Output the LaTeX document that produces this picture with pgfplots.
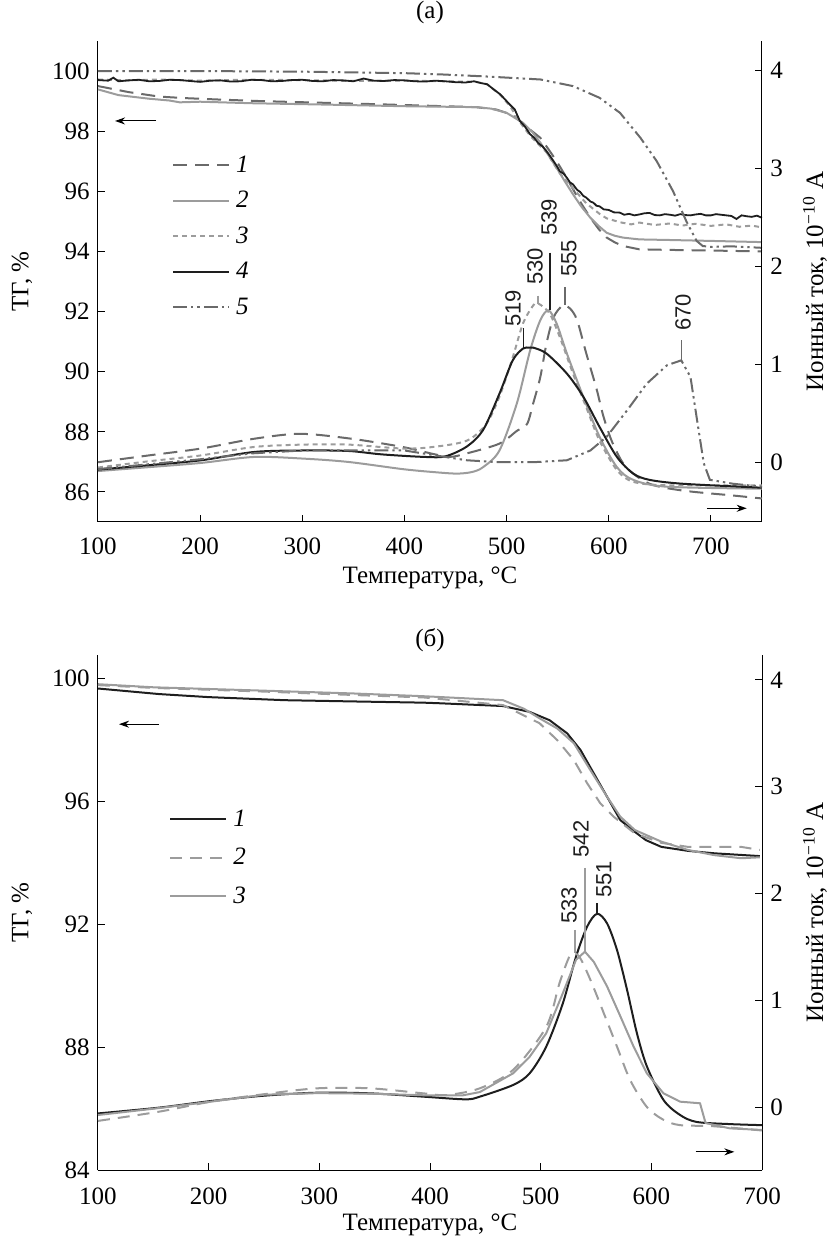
\documentclass[border=0pt]{standalone}
\usepackage{fontspec}
\setmainfont{Liberation Serif}
\newfontfamily\sansf{Liberation Sans}
\usepackage{pgfplots}
\pgfplotsset{compat=1.18}
\usepackage{pgfplotstable}
\usetikzlibrary{arrows.meta}
\definecolor{cblk}{HTML}{1E1E1E}
\definecolor{cmid}{HTML}{6A6A6A}
\definecolor{clt}{HTML}{9C9C9C}

% ---------- panel (a): TG ----------
\pgfplotstableread{
x y
100 99.5
130 99.3
160 99.15
185 99.1
220 99.05
260 99.0
315 98.95
370 98.9
420 98.85
470 98.8
490 98.72
505 98.55
513 98.34
523 98.05
533 97.78
541 97.4
549 97.0
557 96.55
565 96.07
573 95.6
582 95.12
590 94.75
598 94.46
606 94.3
614 94.18
630 94.07
660 94.05
700 94.03
750 94.0
}\TGaA
\pgfplotstableread{
x y
100 99.39
120 99.2
150 99.08
170 99.02
180 98.96
200 98.98
250 98.93
315 98.89
400 98.83
470 98.8
485 98.75
500 98.61
516 98.28
525 97.98
533 97.62
541 97.2
549 96.78
557 96.33
565 95.9
573 95.5
582 95.12
590 94.85
598 94.62
606 94.52
614 94.46
630 94.4
660 94.38
700 94.35
750 94.31
}\TGaB
\pgfplotstableread{
x y
100 99.72
130 99.69
160 99.72
200 99.68
240 99.71
300 99.7
350 99.67
400 99.68
440 99.66
470 99.64
481 99.56
494 99.2
503 98.85
513 98.3
523 97.85
539 97.3
552 96.6
565 96.1
578 95.6
591 95.25
598 95.1
611 94.97
622 94.9
630 94.96
645 94.88
660 94.93
672 94.86
685 94.92
700 94.85
715 94.9
728 94.82
740 94.86
750 94.8
}\TGaC
\pgfplotstableread{
x y
100 99.70
110 99.68
115 99.78
120 99.66
130 99.69
140 99.71
150 99.66
160 99.67
170 99.71
180 99.70
190 99.67
200 99.64
210 99.68
220 99.69
230 99.65
240 99.66
250 99.71
260 99.70
270 99.66
280 99.67
290 99.70
300 99.71
310 99.67
320 99.66
330 99.70
340 99.69
350 99.66
360 99.75
370 99.68
380 99.67
390 99.70
400 99.69
410 99.66
420 99.65
430 99.68
440 99.66
450 99.63
460 99.62
468 99.66
475 99.60
481 99.56
487 99.40
494 99.22
503 98.89
508 98.72
513 98.34
518 98.15
523 97.9
527 97.78
531 97.6
535 97.5
539 97.34
543 97.15
546 97.0
549 96.85
552 96.67
556 96.58
559 96.45
562 96.30
565 96.23
569 96.05
572 95.98
575 95.85
578 95.79
582 95.66
585 95.62
588 95.52
591 95.5
595 95.40
600 95.38
605 95.30
611 95.29
615 95.22
620 95.25
625 95.20
630 95.23
635 95.27
640 95.28
645 95.21
650 95.2
655 95.24
660 95.22
665 95.19
670 95.24
675 95.21
680 95.2
685 95.23
690 95.25
695 95.20
700 95.2
705 95.24
710 95.22
715 95.20
720 95.18
725 95.08
730 95.2
735 95.17
740 95.15
745 95.19
750 95.12
}\TGaD
\pgfplotstableread{
x y
100 100.0
200 100.0
300 99.98
400 99.93
435 99.89
480 99.82
533 99.72
565 99.5
591 99.11
611 98.61
631 97.78
647 97.0
663 96.0
676 95.0
686 94.35
692 94.18
700 94.15
720 94.17
750 94.12
}\TGaE
% ---------- panel (a): MS ----------
\pgfplotstableread{
x y
100 0.00
150 0.07
201 0.14
253 0.24
298 0.29
348 0.24
398 0.156
430 0.08
445 0.055
461 0.09
493 0.19
510 0.32
520 0.39
526 0.60
533 0.87
539 1.21
546 1.48
555 1.60
562 1.57
569 1.45
578 1.11
588 0.75
595 0.46
604 0.19
617 -0.05
640 -0.22
673 -0.29
722 -0.34
750 -0.37
}\MSaA
\pgfplotstableread{
x y
100 -0.09
150 -0.05
201 -0.007
253 0.054
301 0.037
345 0.003
398 -0.07
428 -0.1
451 -0.116
466 -0.1
477 -0.05
493 0.12
510 0.6
523 1.14
533 1.45
541 1.55
549 1.415
559 1.11
575 0.67
591 0.26
608 -0.05
624 -0.18
657 -0.25
750 -0.27
}\MSaB
\pgfplotstableread{
x y
100 -0.054
150 0.01
201 0.07
253 0.156
301 0.18
345 0.18
398 0.14
428 0.156
461 0.22
480 0.39
493 0.67
506 1.07
516 1.415
526 1.60
531 1.62
542 1.52
552 1.28
565 0.905
578 0.56
591 0.22
608 -0.08
624 -0.2
657 -0.235
750 -0.235
}\MSaC
\pgfplotstableread{
x y
100 -0.075
150 -0.03
201 0.02
253 0.105
301 0.12
345 0.115
378 0.08
420 0.054
440 0.06
461 0.16
477 0.33
493 0.70
506 1.04
516 1.16
522 1.17
526 1.17
539 1.11
559 0.905
575 0.67
591 0.36
608 0.054
624 -0.116
640 -0.18
673 -0.22
750 -0.26
}\MSaD
\pgfplotstableread{
x y
100 -0.07
150 -0.02
200 0.03
250 0.09
300 0.12
350 0.12
400 0.12
430 0.07
461 0.02
493 0.0
526 0.0
559 0.02
582 0.12
598 0.26
618 0.53
637 0.80
657 0.99
671 1.04
680 0.87
686 0.46
693 -0.01
699 -0.18
722 -0.22
750 -0.25
}\MSaE
% ---------- panel (b): TG ----------
\pgfplotstableread{
x y
100 99.66
155 99.48
200 99.38
269 99.28
330 99.24
394 99.2
409 99.18
466 99.09
490 98.9
508 98.63
524 98.2
536 97.66
548 96.9
560 96.14
572 95.38
585 95.0
595 94.73
609 94.51
633 94.38
657 94.3
698 94.21
}\TGbA
\pgfplotstableread{
x y
100 99.77
150 99.68
250 99.56
330 99.45
394 99.37
409 99.32
466 99.12
481 98.85
499 98.53
515 97.98
530 97.33
542 96.58
554 95.92
566 95.49
585 94.95
609 94.64
633 94.51
681 94.51
698 94.41
}\TGbB
\pgfplotstableread{
x y
100 99.8
150 99.7
250 99.59
330 99.5
394 99.41
466 99.28
485 99.0
499 98.69
515 98.36
530 97.88
545 97.0
560 96.14
572 95.49
585 95.06
609 94.68
633 94.41
657 94.24
681 94.14
698 94.17
}\TGbC
% ---------- panel (b): MS ----------
\pgfplotstableread{
x y
100 -0.06
155 -0.006
202 0.056
250 0.106
298 0.134
346 0.128
394 0.097
432 0.072
445 0.097
475 0.206
490 0.315
505 0.565
520 0.97
532 1.41
542 1.69
551 1.81
560 1.72
569 1.47
578 1.10
587 0.69
596 0.38
611 0.066
626 -0.075
641 -0.14
671 -0.16
700 -0.17
}\MSbA
\pgfplotstableread{
x y
100 -0.13
155 -0.044
202 0.05
250 0.12
298 0.175
346 0.175
394 0.128
415 0.112
445 0.175
475 0.347
505 0.75
517 1.16
526 1.41
531 1.44
536 1.39
545 1.19
557 0.88
569 0.565
581 0.25
596 0.0
611 -0.12
626 -0.17
656 -0.18
700 -0.22
}\MSbB
\pgfplotstableread{
x y
100 -0.075
155 -0.01
202 0.05
250 0.115
298 0.13
346 0.125
394 0.11
430 0.11
445 0.14
475 0.315
490 0.47
505 0.69
520 1.065
532 1.38
540 1.455
548 1.36
560 1.13
572 0.85
584 0.565
596 0.315
611 0.128
626 0.05
644 0.035
649 -0.15
671 -0.2
700 -0.215
}\MSbC

\tikzset{
  pk/.style={font=\sansf\fontsize{11}{12}\selectfont, rotate=90, text=cblk, inner sep=0pt},
  arr/.style={line width=0.5pt, -{Stealth[length=5pt,width=3.5pt]}},
}
\pgfplotsset{
  base/.style={scale only axis, width=332pt, clip=false,
    tick align=inside, major tick length=3.5pt,
    every tick/.style={black, line width=0.5pt},
    axis line style={line width=0.5pt},
    /pgf/number format/assume math mode=true,
    tick label style={font=\fontsize{12.5}{14}\selectfont},
    label style={font=\fontsize{12.5}{15}\selectfont},
  },
  lefta/.style={base, axis x line*=bottom, axis y line*=left,
    xtick={100,200,...,700},
    xticklabel style={anchor=north, inner sep=0pt, yshift=-7.5pt},
    yticklabel style={anchor=east, inner sep=0pt, xshift=-4pt},
    xlabel={Температура, °C},
    ylabel={ТГ, \%},
    ylabel style={at={(axis description cs:-0.1145,0.5)}, anchor=center},
    legend cell align=left,
    legend image code/.code={\draw[##1] (0pt,0pt) -- (28pt,0pt);},
  },
  righta/.style={base, axis x line=none, axis y line*=right,
    ytick={0,1,2,3,4},
    yticklabel style={anchor=west, inner sep=0pt, xshift=4pt},
    ylabel={Ионный ток, 10\textsuperscript{−10} А},
    ylabel style={at={(axis description cs:1.0798,0.5)}, anchor=center},
  },
}

\begin{document}
\begin{tikzpicture}
\path[use as bounding box] (0,0) rectangle (414.5pt,619pt);
\node[font=\fontsize{12.5}{14}\selectfont] at (215pt,613pt) {(а)};
\node[font=\fontsize{12.5}{14}\selectfont] at (215pt,299pt) {(б)};

% ===== panel (a) =====
\begin{axis}[lefta, at={(49pt,358pt)}, anchor=south west, height=240.5pt,
  xmin=100, xmax=750, ymin=85, ymax=101, ytick={86,88,...,100},
  xlabel style={at={(axis description cs:0.5,-0.1164)}, anchor=center},
  legend style={draw=none, fill=none, at={(0.111,0.765)}, anchor=north west,
    inner sep=0pt, row sep=6.75pt, column sep=2pt,
    nodes={inner sep=1pt, text height=8pt, text depth=1pt,
      font=\itshape\fontsize{12.5}{14}\selectfont}}]
\addplot[cmid, line width=1pt, dash pattern=on 7pt off 4pt] table {\TGaA};
\addlegendentry{1}
\addplot[clt, line width=1pt] table {\TGaB};
\addlegendentry{2}
\addplot[clt, line width=1pt, dash pattern=on 2.5pt off 2pt] table {\TGaC};
\addlegendentry{3}
\addplot[cblk, line width=0.9pt] table {\TGaD};
\addlegendentry{4}
\addplot[cmid, line width=1pt, dash pattern=on 7pt off 2pt on 1.2pt off 2pt on 1.2pt off 2pt] table {\TGaE};
\addlegendentry{5}
\draw[arr] (axis cs:157,98.34) -- (axis cs:116.7,98.34);
\end{axis}
\begin{axis}[righta, at={(49pt,358pt)}, anchor=south west, height=240.5pt,
  xmin=100, xmax=750, ymin=-0.61, ymax=4.3]
\addplot[cmid, line width=1pt, smooth, dash pattern=on 7pt off 4pt] table {\MSaA};
\addplot[clt, line width=1pt, smooth] table {\MSaB};
\addplot[clt, line width=1pt, smooth, dash pattern=on 2.5pt off 2pt] table {\MSaC};
\addplot[cblk, line width=1pt, smooth] table {\MSaD};
\addplot[cmid, line width=1pt, dash pattern=on 7pt off 2pt on 1.2pt off 2pt on 1.2pt off 2pt] table {\MSaE};
\node[pk] at (axis cs:506.3,1.571) {519};
\draw[cblk, line width=0.7pt] (axis cs:516.3,1.367) -- (axis cs:516.3,1.17);
\node[pk] at (axis cs:527.8,2.0) {530};
\draw[clt, line width=0.7pt] (axis cs:530.7,1.70) -- (axis cs:530.7,1.62);
\node[pk] at (axis cs:541.5,2.5) {539};
\draw[cblk, line width=0.7pt] (axis cs:542.5,2.14) -- (axis cs:542.5,1.55);
\node[pk] at (axis cs:561.1,2.08) {555};
\draw[cmid, line width=0.7pt] (axis cs:557,1.79) -- (axis cs:557,1.60);
\node[pk] at (axis cs:672.7,1.53) {670};
\draw[cmid, line width=0.7pt] (axis cs:671.4,1.245) -- (axis cs:671.4,1.04);
\draw[arr] (axis cs:696,-0.47) -- (axis cs:735,-0.47);
\end{axis}

% ===== panel (b) =====
\begin{axis}[lefta, at={(49pt,34pt)}, anchor=south west, height=257.5pt,
  xmin=100, xmax=700, ymin=84, ymax=100.75, ytick={84,88,...,100},
  xticklabel style={yshift=-1pt},
  xlabel style={at={(axis description cs:0.5,-0.1068)}, anchor=center},
  legend style={draw=none, fill=none, at={(0.107,0.703)}, anchor=north west,
    inner sep=0pt, row sep=8.25pt, column sep=2pt,
    nodes={inner sep=1pt, text height=8pt, text depth=1pt,
      font=\itshape\fontsize{12.5}{14}\selectfont}}]
\addplot[cblk, line width=1pt] table {\TGbA};
\addlegendentry{1}
\addplot[clt, line width=1pt, dash pattern=on 6pt off 4pt] table {\TGbB};
\addlegendentry{2}
\addplot[clt, line width=1pt] table {\TGbC};
\addlegendentry{3}
\draw[arr] (axis cs:155,98.5) -- (axis cs:119,98.5);
\end{axis}
\begin{axis}[righta, at={(49pt,34pt)}, anchor=south west, height=257.5pt,
  xmin=100, xmax=700, ymin=-0.59, ymax=4.234]
\addplot[cblk, line width=1pt, smooth] table {\MSbA};
\addplot[clt, line width=1pt, smooth, dash pattern=on 6pt off 4pt] table {\MSbB};
\addplot[clt, line width=1pt] table {\MSbC};
\node[pk] at (axis cs:536.4,2.51) {542};
\draw[clt, line width=0.7pt] (axis cs:540,2.24) -- (axis cs:540,1.455);
\node[pk] at (axis cs:557.2,2.13) {551};
\draw[cblk, line width=0.7pt] (axis cs:550.9,1.91) -- (axis cs:550.9,1.81);
\node[pk] at (axis cs:525.6,1.89) {533};
\draw[clt, line width=0.7pt] (axis cs:531,1.66) -- (axis cs:531,1.44);
\draw[arr] (axis cs:640,-0.42) -- (axis cs:675,-0.42);
\end{axis}
\end{tikzpicture}
\end{document}
